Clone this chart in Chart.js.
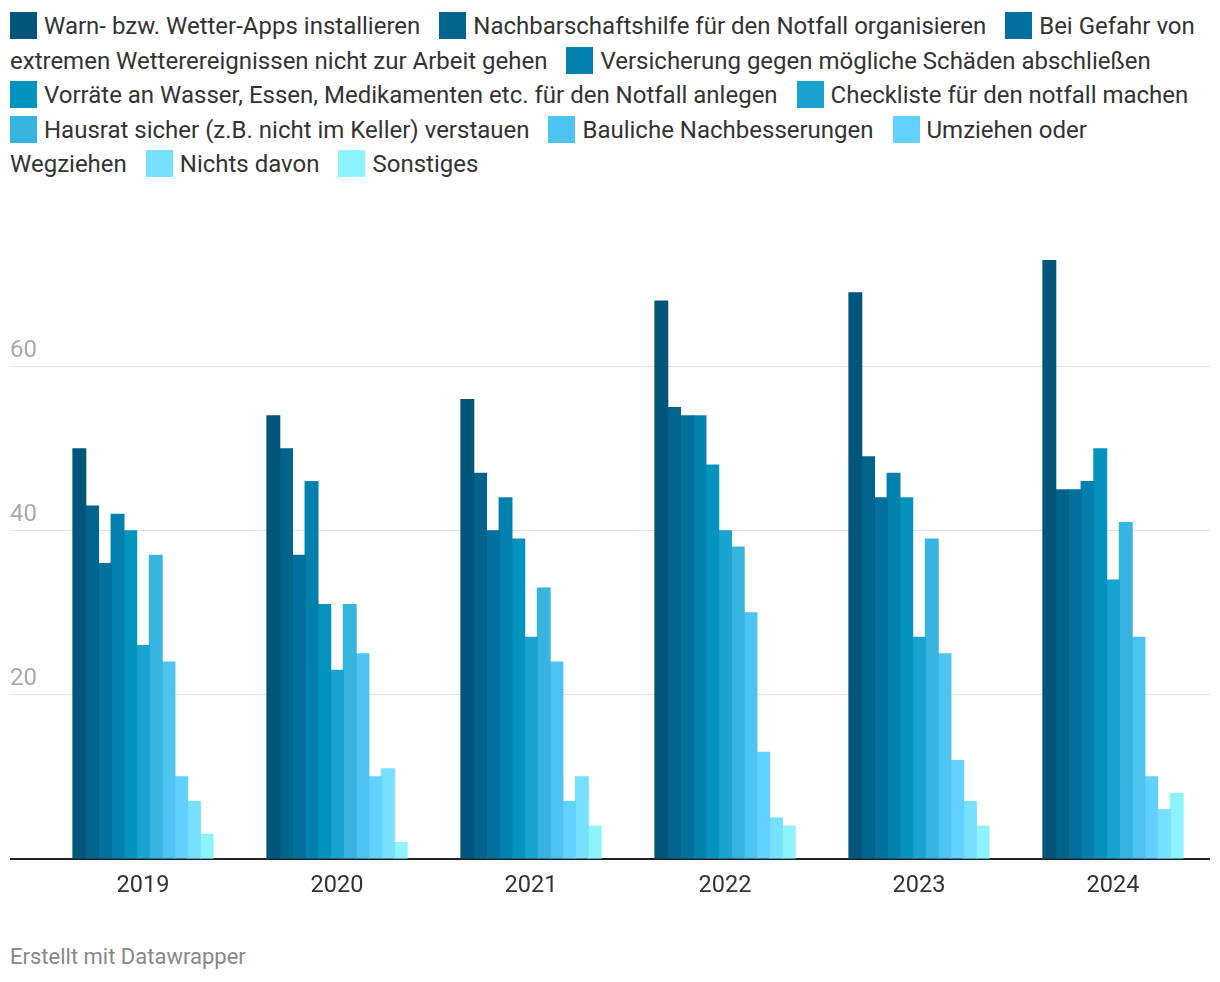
<!DOCTYPE html>
<html>
<head>
<meta charset="utf-8">
<script src="https://cdn.jsdelivr.net/npm/chart.js@4/dist/chart.umd.min.js"></script>
<style>
  html, body { margin: 0; padding: 0; background: #fff; }
  body { width: 1220px; height: 982px; position: relative; font-family: Roboto, sans-serif; }
  #legend {
    position: absolute; left: 10px; top: 9px; width: 1200px;
    font-size: 24px; line-height: 34.5px; color: #333;
  }
  #legend .item { margin-right: 13px; }
  #legend .head { white-space: nowrap; }
  #legend .sq {
    display: inline-block; width: 27px; height: 27px; margin-right: 7px;
    vertical-align: -5px;
  }
  #wrap { position: absolute; left: 0; top: 200px; width: 1220px; height: 710px; }
  #credit { position: absolute; left: 10px; top: 944px; font-size: 22px; color: #888; }
</style>
</head>
<body>
<div id="legend"></div>
<div id="wrap"><canvas id="c"></canvas></div>
<div id="credit">Erstellt mit Datawrapper</div>
<script>
// ── Daten ────────────────────────────────────────────────────────────────
const years = ['2019', '2020', '2021', '2022', '2023', '2024'];

const seriesNames = [
  'Warn- bzw. Wetter-Apps installieren',
  'Nachbarschaftshilfe für den Notfall organisieren',
  'Bei Gefahr von extremen Wetterereignissen nicht zur Arbeit gehen',
  'Versicherung gegen mögliche Schäden abschließen',
  'Vorräte an Wasser, Essen, Medikamenten etc. für den Notfall anlegen',
  'Checkliste für den notfall machen',
  'Hausrat sicher (z.B. nicht im Keller) verstauen',
  'Bauliche Nachbesserungen',
  'Umziehen oder Wegziehen',
  'Nichts davon',
  'Sonstiges'
];

const warnApps      = [50, 54, 56, 68, 69, 73];
const nachbarHilfe  = [43, 50, 47, 55, 49, 45];
const nichtArbeit   = [36, 37, 40, 54, 44, 45];
const versicherung  = [42, 46, 44, 54, 47, 46];
const vorraete      = [40, 31, 39, 48, 44, 50];
const checkliste    = [26, 23, 27, 40, 27, 34];
const hausrat       = [37, 31, 33, 38, 39, 41];
const baulich       = [24, 25, 24, 30, 25, 27];
const umziehen      = [10, 10, 7, 13, 12, 10];
const nichts        = [7, 11, 10, 5, 7, 6];
const sonstiges     = [3, 2, 4, 4, 4, 8];

const yTicks = [0, 20, 40, 60];

const colors = ['#01547a', '#00648c', '#02709e', '#0381ae', '#0493bf', '#1aa3d0',
                '#37b3df', '#4ec3ef', '#62d1ff', '#77e0ff', '#8df4ff'];

const allSeries = [warnApps, nachbarHilfe, nichtArbeit, versicherung, vorraete,
                   checkliste, hausrat, baulich, umziehen, nichts, sonstiges];

// ── Legende (HTML, fließend umbrechend wie im Original) ───────────────────
// Quadrat + erstes Wort bleiben zusammen, der Rest darf umbrechen
const legend = document.getElementById('legend');
seriesNames.forEach((name, i) => {
  const sp = name.indexOf(' ');
  const first = sp < 0 ? name : name.slice(0, sp);
  const rest = sp < 0 ? '' : name.slice(sp);
  const item = document.createElement('span');
  item.className = 'item';
  item.innerHTML = `<span class="head"><span class="sq" style="background:${colors[i]}"></span>${first}</span>${rest}`;
  legend.appendChild(item);
  legend.appendChild(document.createTextNode(' '));
});

// ── Chart ────────────────────────────────────────────────────────────────
const ctx = document.getElementById('c');
new Chart(ctx, {
  type: 'bar',
  data: {
    labels: years,
    datasets: allSeries.map((d, i) => ({
      label: seriesNames[i],
      data: d,
      backgroundColor: colors[i],
      borderWidth: 0,
      inflateAmount: 0.6,
      barPercentage: 1,
      categoryPercentage: 0.722
    }))
  },
  options: {
    responsive: true,
    maintainAspectRatio: false,
    animation: false,
    layout: { padding: { left: 10, right: 10, top: 60, bottom: 0 } },
    plugins: { legend: { display: false }, tooltip: { enabled: false } },
    scales: {
      x: {
        grid: { display: false, drawTicks: false },
        border: { display: false },
        ticks: { color: '#333', font: { family: 'Roboto', size: 23.5 }, padding: 13, maxRotation: 0 },
        afterFit: axis => { axis.height = 51; }
      },
      y: {
        min: 0,
        max: 73,
        border: { display: false },
        grid: {
          color: c => c.tick && c.tick.value === 0 ? '#222' : '#e3e3e3',
          lineWidth: c => c.tick && c.tick.value === 0 ? 2 : 1,
          tickLength: 36
        },
        ticks: {
          stepSize: 20,
          includeBounds: false,
          crossAlign: 'far',
          labelOffset: -16,
          color: '#aaa',
          font: { family: 'Roboto', size: 24 },
          callback: v => (yTicks.includes(v) && v !== 0) ? String(v) : ''
        },
        afterFit: axis => { axis.width = 36; }
      }
    }
  }
});
</script>
</body>
</html>
